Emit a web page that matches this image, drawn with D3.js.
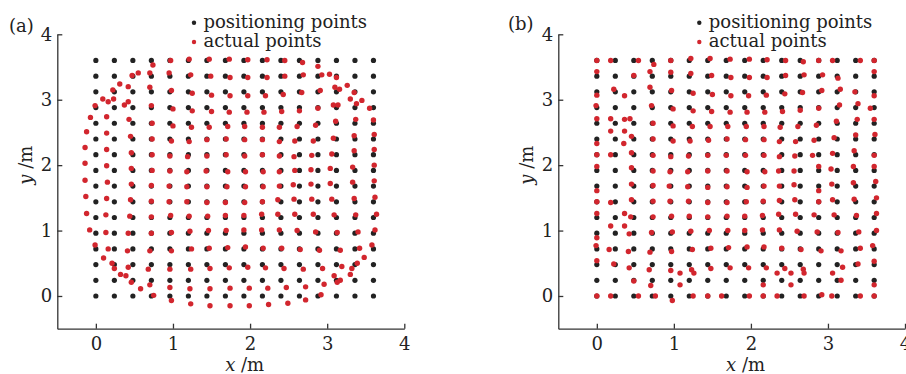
<!DOCTYPE html>
<html lang="en">
<head>
<meta charset="UTF-8">
<title>Positioning points vs actual points</title>
<script src="https://d3js.org/d3.v7.min.js"></script>
<style>
  body { margin: 0; background: #fff; }
  svg text { font-family: "DejaVu Serif", serif; fill: #222; }
</style>
</head>
<body>
<script>
// grid of positioning points (m), same for both panels
const gridCoords = [0, 0.24, 0.48, 0.72, 0.96, 1.2, 1.44, 1.68, 1.92, 2.16, 2.4, 2.64, 2.88, 3.12, 3.36, 3.6];
const tickValues = [0, 1, 2, 3, 4];
const seriesNames = ['positioning points', 'actual points'];
const panelLabels = ['(a)', '(b)'];

// actual points, panel (a)
const actualA = [
  [0.74,3.53],[0.97,3.60],[1.21,3.62],[1.47,3.62],[1.73,3.62],[1.97,3.61],[2.22,3.61],[2.45,3.60],[2.68,3.57],[2.88,3.51],
  [0.47,3.37],[0.55,3.41],[0.70,3.41],[0.95,3.41],[1.23,3.38],[1.49,3.36],[1.74,3.34],[1.97,3.34],[2.22,3.34],[2.45,3.36],[2.69,3.38],[2.93,3.38],[3.03,3.39],[3.12,3.34],
  [0.22,3.15],[0.31,3.24],[0.42,3.20],[0.70,3.19],[0.98,3.14],[1.25,3.10],[1.50,3.07],[1.74,3.06],[1.97,3.06],[2.20,3.06],[2.43,3.08],[2.67,3.11],[2.91,3.14],[3.10,3.19],[3.16,3.16],[3.26,3.22],[3.35,3.11],
  [-0.01,2.91],[0.09,3.01],[0.16,2.97],[0.23,3.01],[0.37,2.92],[0.42,2.97],[0.72,2.91],[1.00,2.86],[1.25,2.83],[1.50,2.82],[1.73,2.81],[1.96,2.81],[2.18,2.81],[2.41,2.82],[2.64,2.83],[2.88,2.87],[3.08,2.92],[3.14,2.92],[3.30,3.01],[3.38,2.94],[3.45,2.99],[3.55,2.87],
  [-0.07,2.73],[0.14,2.74],[0.43,2.70],[0.73,2.64],[1.00,2.60],[1.24,2.58],[1.47,2.58],[1.71,2.59],[1.93,2.59],[2.16,2.58],[2.38,2.58],[2.61,2.59],[2.85,2.61],[3.11,2.67],[3.37,2.70],[3.60,2.69],
  [-0.12,2.51],[0.14,2.49],[0.45,2.44],[0.73,2.40],[0.98,2.37],[1.21,2.36],[1.44,2.39],[1.69,2.40],[1.93,2.39],[2.16,2.39],[2.38,2.36],[2.58,2.37],[2.82,2.37],[3.08,2.41],[3.35,2.45],[3.61,2.47],
  [-0.14,2.27],[0.14,2.24],[0.46,2.19],[0.73,2.16],[0.96,2.14],[1.19,2.13],[1.44,2.14],[1.69,2.16],[1.93,2.14],[2.16,2.16],[2.38,2.14],[2.57,2.13],[2.80,2.15],[3.06,2.17],[3.35,2.22],[3.61,2.24],
  [-0.14,2.03],[0.14,1.99],[0.46,1.95],[0.73,1.92],[0.96,1.91],[1.18,1.90],[1.43,1.91],[1.71,1.90],[1.94,1.90],[2.17,1.90],[2.38,1.90],[2.58,1.92],[2.79,1.93],[3.04,1.95],[3.33,1.97],[3.61,2.00],
  [-0.14,1.77],[0.15,1.74],[0.46,1.71],[0.72,1.69],[0.95,1.68],[1.18,1.67],[1.44,1.67],[1.70,1.67],[1.94,1.67],[2.17,1.67],[2.38,1.68],[2.56,1.70],[2.79,1.71],[3.04,1.72],[3.33,1.74],[3.61,1.76],
  [-0.13,1.52],[0.14,1.49],[0.45,1.47],[0.72,1.45],[0.95,1.44],[1.18,1.44],[1.44,1.43],[1.68,1.43],[1.93,1.43],[2.16,1.44],[2.36,1.47],[2.57,1.48],[2.80,1.48],[3.06,1.48],[3.35,1.49],[3.62,1.51],
  [-0.12,1.26],[0.13,1.24],[0.44,1.22],[0.72,1.21],[0.97,1.23],[1.21,1.22],[1.45,1.22],[1.68,1.23],[1.92,1.23],[2.15,1.25],[2.36,1.25],[2.58,1.25],[2.82,1.25],[3.09,1.24],[3.37,1.24],[3.64,1.25],
  [-0.08,1.01],[0.13,0.97],[0.42,0.96],[0.72,0.96],[0.98,0.97],[1.22,0.99],[1.46,1.00],[1.69,1.00],[1.92,1.01],[2.15,1.01],[2.38,1.01],[2.61,1.00],[2.85,0.98],[3.13,0.97],[3.40,0.98],[3.62,1.01],
  [-0.01,0.78],[0.16,0.72],[0.41,0.69],[0.70,0.69],[0.98,0.69],[1.24,0.72],[1.47,0.73],[1.71,0.74],[1.94,0.75],[2.17,0.73],[2.41,0.73],[2.65,0.71],[2.90,0.70],[3.17,0.70],[3.42,0.73],[3.58,0.78],
  [0.10,0.58],[0.21,0.50],[0.24,0.42],[0.32,0.33],[0.39,0.31],[0.42,0.44],[0.68,0.41],[0.96,0.41],[1.23,0.41],[1.48,0.42],[1.73,0.43],[1.97,0.44],[2.20,0.43],[2.44,0.42],[2.69,0.41],[2.94,0.42],[3.19,0.45],[3.32,0.42],[3.39,0.50],[3.48,0.59],
  [0.46,0.21],[0.70,0.17],[0.58,0.11],[0.96,0.13],[1.22,0.11],[1.48,0.11],[1.74,0.12],[1.99,0.12],[2.23,0.12],[2.47,0.13],[2.72,0.14],[2.96,0.18],[3.13,0.21],[3.09,0.31],[3.17,0.24],[3.30,0.33],
  [0.75,0.01],[0.98,-0.07],[1.23,-0.12],[1.48,-0.15],[1.74,-0.15],[1.99,-0.15],[2.24,-0.13],[2.49,-0.11],[2.72,-0.06],[2.92,0.02]
];

// actual points, panel (b)
const actualB = [
  [0,3.60],[0.18,3.60],[0.54,3.60],[0.74,3.54],[0.96,3.60],[1.22,3.63],[1.47,3.63],[1.73,3.62],[1.98,3.62],[2.21,3.61],[2.45,3.60],[2.68,3.58],[2.88,3.60],[3.06,3.60],[3.42,3.60],[3.60,3.60],
  [0,3.43],[0.48,3.37],[0.69,3.43],[0.96,3.42],[1.22,3.40],[1.49,3.37],[1.74,3.34],[1.98,3.34],[2.21,3.34],[2.45,3.37],[2.69,3.38],[2.93,3.38],[3.13,3.33],[3.60,3.43],
  [0,3.07],[0.22,3.16],[0.36,3.06],[0.69,3.19],[0.97,3.14],[1.25,3.10],[1.50,3.08],[1.74,3.06],[1.97,3.06],[2.20,3.07],[2.44,3.09],[2.67,3.11],[2.92,3.14],[3.16,3.16],[3.35,3.12],[3.60,3.06],
  [-0.01,2.91],[0.71,2.91],[0.99,2.86],[1.25,2.83],[1.49,2.82],[1.73,2.81],[1.95,2.81],[2.18,2.81],[2.41,2.82],[2.64,2.84],[2.88,2.87],[3.15,2.92],[3.39,2.94],[3.55,2.87],
  [0,2.71],[0.18,2.71],[0.36,2.70],[0.43,2.71],[0.18,2.52],[0.36,2.52],[0.45,2.44],[0.73,2.64],[0.99,2.60],[1.24,2.59],[1.47,2.59],[1.70,2.59],[1.94,2.59],[2.17,2.59],[2.38,2.58],[2.61,2.59],[2.85,2.61],[3.11,2.67],[3.38,2.70],[3.60,2.70],
  [0,2.33],[0.35,2.33],[0.73,2.40],[0.99,2.37],[1.21,2.37],[1.45,2.38],[1.69,2.40],[1.93,2.39],[2.17,2.39],[2.37,2.36],[2.58,2.36],[2.82,2.38],[3.08,2.42],[3.36,2.46],[3.61,2.47],
  [0,2.16],[0.18,2.16],[0.45,2.19],[0.73,2.15],[0.96,2.13],[1.19,2.14],[1.44,2.15],[1.68,2.15],[1.93,2.15],[2.17,2.15],[2.37,2.13],[2.57,2.14],[2.80,2.15],[3.06,2.18],[3.34,2.22],[3.60,2.15],
  [0,1.98],[0.45,1.96],[0.73,1.91],[0.95,1.90],[1.18,1.90],[1.44,1.91],[1.69,1.91],[1.95,1.90],[2.18,1.90],[2.36,1.91],[2.56,1.91],[2.88,1.98],[3.04,1.94],[3.33,1.98],[3.60,1.98],
  [0,1.61],[0.45,1.71],[0.73,1.69],[0.94,1.68],[1.18,1.67],[1.44,1.66],[1.69,1.67],[1.95,1.66],[2.17,1.68],[2.37,1.68],[2.56,1.70],[2.88,1.61],[3.05,1.71],[3.33,1.73],[3.62,1.75],
  [0,1.44],[0.18,1.43],[0.45,1.47],[0.73,1.45],[0.95,1.45],[1.19,1.45],[1.44,1.43],[1.69,1.43],[1.94,1.44],[2.16,1.45],[2.37,1.46],[2.57,1.47],[2.88,1.44],[3.06,1.47],[3.34,1.48],[3.63,1.50],
  [0,1.26],[0.36,1.26],[0.44,1.21],[0.18,1.07],[0.36,1.07],[0.73,1.21],[0.97,1.22],[1.20,1.22],[1.44,1.21],[1.69,1.22],[1.92,1.22],[2.15,1.23],[2.36,1.25],[2.58,1.25],[2.82,1.24],[3.08,1.24],[3.37,1.23],[3.63,1.26],
  [0,0.89],[0.42,0.95],[0.71,0.97],[0.98,0.98],[1.22,0.99],[1.46,1.00],[1.70,1.00],[1.92,1.00],[2.15,1.01],[2.37,1.01],[2.60,0.99],[2.86,0.98],[3.13,0.97],[3.40,0.98],[3.63,1.00],
  [-0.01,0.77],[0.16,0.71],[0.41,0.68],[0.69,0.67],[0.97,0.68],[1.24,0.71],[1.48,0.73],[1.71,0.74],[1.95,0.75],[2.17,0.75],[2.40,0.73],[2.65,0.71],[2.91,0.69],[3.17,0.69],[3.42,0.73],[3.58,0.77],
  [0,0.54],[0.22,0.49],[0.42,0.43],[0.68,0.40],[0.96,0.39],[1.08,0.35],[1.23,0.40],[1.26,0.35],[1.48,0.42],[1.73,0.43],[1.97,0.43],[2.20,0.43],[2.44,0.42],[2.34,0.35],[2.52,0.35],[2.68,0.41],[2.69,0.35],[3.19,0.44],[3.06,0.35],[3.39,0.49],[3.60,0.53],
  [0.48,0.23],[0.70,0.16],[1.08,0.17],[2.16,0.17],[2.52,0.17],[3.17,0.24],[3.60,0.17],
  [0,0],[0.18,0],[0.54,0],[0.76,0],[0.98,-0.07],[1.25,0],[1.44,0],[1.62,0],[1.98,0],[2.16,0],[2.34,0],[2.69,0],[2.92,0.02],[3.05,0],[3.42,0],[3.60,0]
];

const width = 906, height = 374;
const svg = d3.select('body').append('svg')
    .attr('width', width)
    .attr('height', height);

const positioning = gridCoords.flatMap(y => gridCoords.map(x => [x, y]));

const panels = [
    { label: panelLabels[0], actual: actualA, left: 57.3, right: 404.3, labelX: 9, labelY: 32, legendX: 194, xTitle: 1.93 },
    { label: panelLabels[1], actual: actualB, left: 558.3, right: 905, labelX: 508, labelY: 30, legendX: 699.3, xTitle: 1.93 }
];

const plotTop = 34.3, plotBottom = 328.7;
const colors = ['#222', '#d2262e'];

panels.forEach(p => {
    const x = d3.scaleLinear().domain([-0.5, 4]).range([p.left, p.right]);
    const y = d3.scaleLinear().domain([-0.5, 4]).range([plotBottom, plotTop]);

    const g = svg.append('g');

    // axes
    const xAxis = d3.axisBottom(x).tickValues(tickValues).tickFormat(d3.format('d'))
        .tickSizeInner(-5).tickSizeOuter(0).tickPadding(9);
    const yAxis = d3.axisLeft(y).tickValues(tickValues).tickFormat(d3.format('d'))
        .tickSizeInner(-5).tickSizeOuter(0).tickPadding(5);

    g.append('g')
        .attr('transform', `translate(0,${plotBottom})`)
        .call(xAxis)
        .call(a => a.selectAll('text').attr('font-size', 18).attr('font-family', '"DejaVu Serif", serif').attr('fill', '#222'));

    g.append('g')
        .attr('transform', `translate(${p.left},0)`)
        .call(yAxis)
        .call(a => a.selectAll('text').attr('font-size', 18).attr('font-family', '"DejaVu Serif", serif').attr('fill', '#222'));

    g.selectAll('.domain, .tick line').attr('stroke', '#333').attr('stroke-width', 1.3);

    // points
    g.append('g')
        .selectAll('circle')
        .data(positioning)
        .join('circle')
        .attr('cx', d => x(d[0]))
        .attr('cy', d => y(d[1]))
        .attr('r', 2.6)
        .attr('fill', colors[0]);

    g.append('g')
        .selectAll('circle')
        .data(p.actual)
        .join('circle')
        .attr('cx', d => x(d[0]))
        .attr('cy', d => y(d[1]))
        .attr('r', 2.7)
        .attr('fill', colors[1]);

    // axis titles
    const xt = g.append('text')
        .attr('x', x(p.xTitle))
        .attr('y', 371)
        .attr('text-anchor', 'middle')
        .attr('font-size', 18);
    xt.append('tspan').attr('font-style', 'italic').text('x');
    xt.append('tspan').text(' /m');

    const yt = g.append('text')
        .attr('transform', `translate(${p.left - 25},${y(2)}) rotate(-90)`)
        .attr('text-anchor', 'middle')
        .attr('font-size', 18);
    yt.append('tspan').attr('font-style', 'italic').text('y');
    yt.append('tspan').text(' /m');

    // panel label
    g.append('text')
        .attr('x', p.labelX)
        .attr('y', p.labelY)
        .attr('font-size', 18)
        .text(p.label);

    // legend
    seriesNames.forEach((name, i) => {
        g.append('circle')
            .attr('cx', p.legendX)
            .attr('cy', 22.7 + i * 19.3)
            .attr('r', 2.2)
            .attr('fill', colors[i]);
        g.append('text')
            .attr('x', p.legendX + 9.5)
            .attr('y', 27.6 + i * 19.6)
            .attr('font-size', 18)
            .text(name);
    });
});
</script>
</body>
</html>
